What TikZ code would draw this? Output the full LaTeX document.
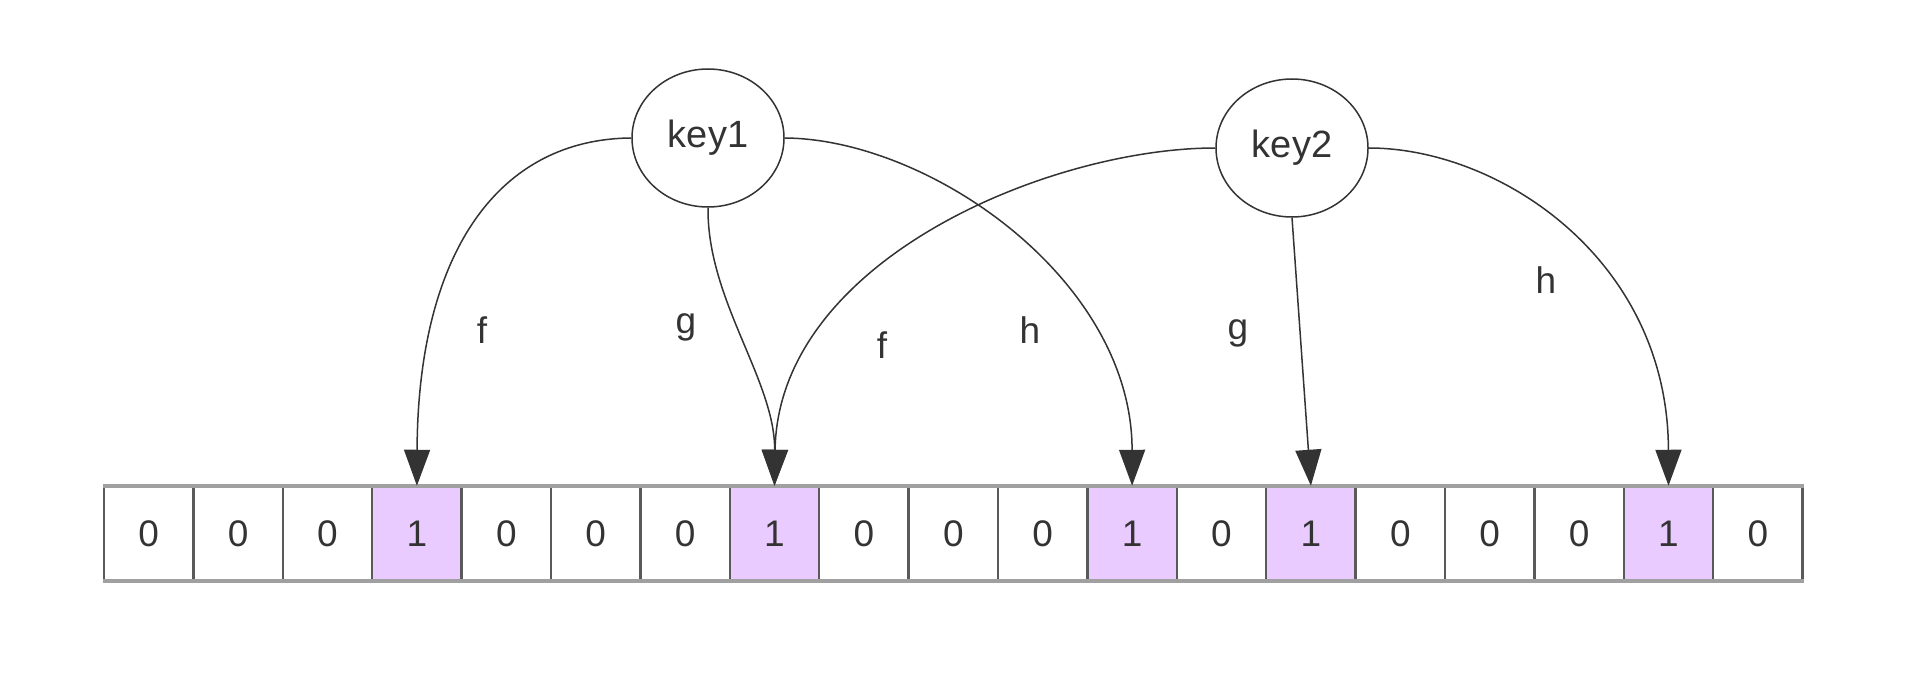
\documentclass[tikz,border=0pt]{standalone}
\usepackage{fontspec}
\setmainfont{Liberation Sans}
\usetikzlibrary{arrows.meta,shapes.geometric}
\definecolor{ink}{HTML}{333333}
\definecolor{bitpink}{RGB}{233,203,255}
\definecolor{divider}{HTML}{5A5A5A}
\definecolor{framegray}{HTML}{A0A0A0}
\begin{document}
\begin{tikzpicture}[x=1pt,y=1pt,
  cellbox/.style={draw=divider,line width=2.5pt,minimum width=89.4pt,minimum height=93pt,inner sep=0pt,font=\fontsize{37}{37}\selectfont,text=ink},
  setbit/.style={cellbox,fill=bitpink},
  keynode/.style={ellipse,draw=ink,line width=1.5pt,minimum width=152pt,minimum height=138pt,inner sep=0pt,font=\fontsize{38}{38}\selectfont,text=ink,fill=white},
  hashedge/.style={draw=ink,line width=1.5pt,-{Triangle[length=36pt,width=26pt]}},
  hashlabel/.style={font=\fontsize{37}{37}\selectfont,text=ink,inner sep=0pt}]
\useasboundingbox (0,0) rectangle (1910,-674);
\fill[white] (0,0) rectangle (1910,-674);
% bit array
\foreach \v/\s [count=\i from 0] in {0/cellbox,0/cellbox,0/cellbox,1/setbit,0/cellbox,0/cellbox,0/cellbox,1/setbit,0/cellbox,0/cellbox,0/cellbox,1/setbit,0/cellbox,1/setbit,0/cellbox,0/cellbox,0/cellbox,1/setbit,0/cellbox}
  \node[\s] (c\i) at ({104+(\i+0.5)*89.4},-533.5) {\v};
\draw[framegray,line width=4pt] (c0.north west) -- (c18.north east);
\draw[framegray,line width=4pt] (c0.south west) -- (c18.south east);
% keys
\node[keynode] (key1) at (708,-138) {key1};
\node[keynode] (key2) at (1292,-148) {key2};
% hash edges of key1
\draw[hashedge] (key1.west) .. controls (500,-139) and (418,-250) .. (c3.north);
\draw[hashedge] (key1.south) .. controls (707,-300) and (775,-380) .. (c7.north);
\draw[hashedge] (key1.east) .. controls (930,-139) and (1132,-280) .. (c11.north);
% hash edges of key2
\draw[hashedge] (key2.west) .. controls (1050,-148) and (778,-260) .. (c7.north);
\draw[hashedge] (key2.south) -- (c13.north);
\draw[hashedge] (key2.east) .. controls (1500,-148) and (1668,-260) .. (c17.north);
% labels
\node[hashlabel] (lf1) at (482,-330) {f};
\node[hashlabel] (lg1) at (686,-327) {g};
\node[hashlabel] (lh1) at (1030,-330) {h};
\node[hashlabel] (lf2) at (882,-345) {f};
\node[hashlabel] (lg2) at (1238,-333) {g};
\node[hashlabel] (lh2) at (1546,-280) {h};
\end{tikzpicture}
\end{document}
